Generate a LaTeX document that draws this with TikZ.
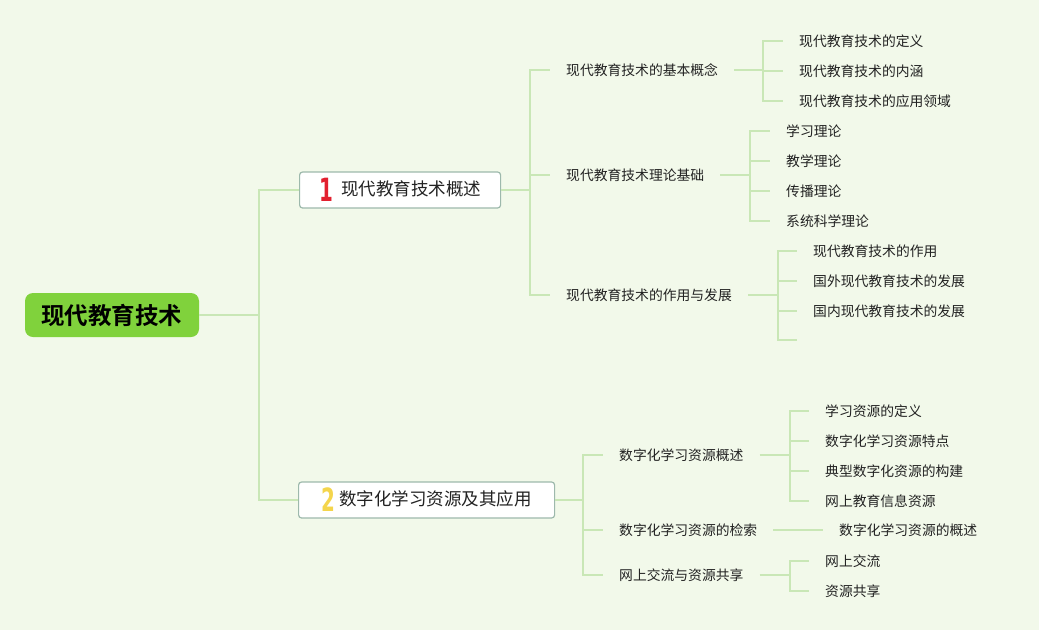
\documentclass[tikz,border=0pt]{standalone}
\usepackage{fontspec}
\setmainfont{Noto Sans CJK SC}[BoldFont={Noto Sans CJK SC Bold}]
\newfontfamily\digitfont{DejaVu Sans}
\definecolor{bgc}{HTML}{F2F9EA}
\definecolor{linec}{HTML}{C9E7B6}
\definecolor{rootc}{HTML}{80D23C}
\definecolor{boxc}{HTML}{9DB9AC}
\definecolor{onec}{HTML}{E2202F}
\definecolor{twoc}{HTML}{F4D54C}
\definecolor{txt}{HTML}{222222}
\newcommand{\topicnum}[2]{\raisebox{-6pt}{\scalebox{0.62}[1]{\digitfont\bfseries\fontsize{32}{32}\selectfont\color{#1}#2}}}

\begin{document}
\begin{tikzpicture}[x=1pt, y=-1pt,
  rootbox/.style={fill=rootc, rounded corners=8pt, minimum width=174pt, minimum height=44pt, inner sep=0, font=\fontsize{23.5}{26}\selectfont\bfseries},
  topicbox/.style={draw=boxc, line width=1.2pt, fill=white, rounded corners=3pt, minimum height=36pt, inner sep=0, anchor=west, font=\fontsize{17.5}{20}\selectfont, text=txt},
  lbl/.style={anchor=west, inner sep=0, font=\fontsize{13.8}{16}\selectfont, text=txt},
  stem/.style={draw=linec, line width=2pt},
  twig/.style={draw=linec, line width=1.2pt},
  ]
	\fill[bgc] (0,0) rectangle (1039,630);
	\node[rootbox] (root) at (112,315) {现代教育技术};
	\node[topicbox, minimum width=201pt] (t1) at (299,190) {\topicnum{onec}{1}\hspace{8pt}现代教育技术概述};
	\node[topicbox, minimum width=256pt] (t2) at (298,500) {\topicnum{twoc}{2}\hspace{4pt}数字化学习资源及其应用};
	\coordinate (jr) at (259,315);
	\draw[stem] (root.east) -- (jr);
	\draw[twig] (jr) |- (t1.west);
	\draw[twig] (jr) |- (t2.west);

	\node[lbl] (a1) at (566,70) {现代教育技术的基本概念};
	\node[lbl] (a2) at (566,175) {现代教育技术理论基础};
	\node[lbl] (a3) at (566,295) {现代教育技术的作用与发展};
	\coordinate (j1) at (530,190);
	\draw[stem] (t1.east) -- (j1);
	\foreach \n in {a1,a2,a3} \draw[twig] (j1) |- ([xshift=-16pt]\n.west);

	\node[lbl] (b1) at (799,41) {现代教育技术的定义};
	\node[lbl] (b2) at (799,71) {现代教育技术的内涵};
	\node[lbl] (b3) at (799,101) {现代教育技术的应用领域};
	\coordinate (j11) at (763,70);
	\draw[stem] ([xshift=16pt]a1.east) -- (j11);
	\foreach \n in {b1,b2,b3} \draw[twig] (j11) |- ([xshift=-16pt]\n.west);

	\node[lbl] (b4) at (786,131) {学习理论};
	\node[lbl] (b5) at (786,161) {教学理论};
	\node[lbl] (b6) at (786,191) {传播理论};
	\node[lbl] (b7) at (786,221) {系统科学理论};
	\coordinate (j12) at (750,175);
	\draw[stem] ([xshift=16pt]a2.east) -- (j12);
	\foreach \n in {b4,b5,b6,b7} \draw[twig] (j12) |- ([xshift=-16pt]\n.west);

	\node[lbl] (b8) at (813,251) {现代教育技术的作用};
	\node[lbl] (b9) at (813,281) {国外现代教育技术的发展};
	\node[lbl] (b10) at (813,311) {国内现代教育技术的发展};
	\coordinate (e1) at (797,340);
	\coordinate (j13) at (778,295);
	\draw[stem] ([xshift=16pt]a3.east) -- (j13);
	\foreach \n in {b8,b9,b10} \draw[twig] (j13) |- ([xshift=-16pt]\n.west);
	\draw[twig] (j13) |- (e1);

	\node[lbl] (c1) at (619,455) {数字化学习资源概述};
	\node[lbl] (c2) at (619,530) {数字化学习资源的检索};
	\node[lbl] (c3) at (619,575) {网上交流与资源共享};
	\coordinate (j2) at (583,500);
	\draw[stem] (t2.east) -- (j2);
	\foreach \n in {c1,c2,c3} \draw[twig] (j2) |- ([xshift=-16pt]\n.west);

	\node[lbl] (d1) at (825,411) {学习资源的定义};
	\node[lbl] (d2) at (825,441) {数字化学习资源特点};
	\node[lbl] (d3) at (825,471) {典型数字化资源的构建};
	\node[lbl] (d4) at (825,501) {网上教育信息资源};
	\coordinate (j21) at (790,455);
	\draw[stem] ([xshift=16pt]c1.east) -- (j21);
	\foreach \n in {d1,d2,d3,d4} \draw[twig] (j21) |- ([xshift=-16pt]\n.west);

	\node[lbl] (f1) at (839,530) {数字化学习资源的概述};
	\draw[twig] ([xshift=16pt]c2.east) -- ([xshift=-16pt]f1.west);

	\node[lbl] (g1) at (825,561) {网上交流};
	\node[lbl] (g2) at (825,591) {资源共享};
	\coordinate (j23) at (790,575);
	\draw[stem] ([xshift=16pt]c3.east) -- (j23);
	\foreach \n in {g1,g2} \draw[twig] (j23) |- ([xshift=-16pt]\n.west);
\end{tikzpicture}
\end{document}
